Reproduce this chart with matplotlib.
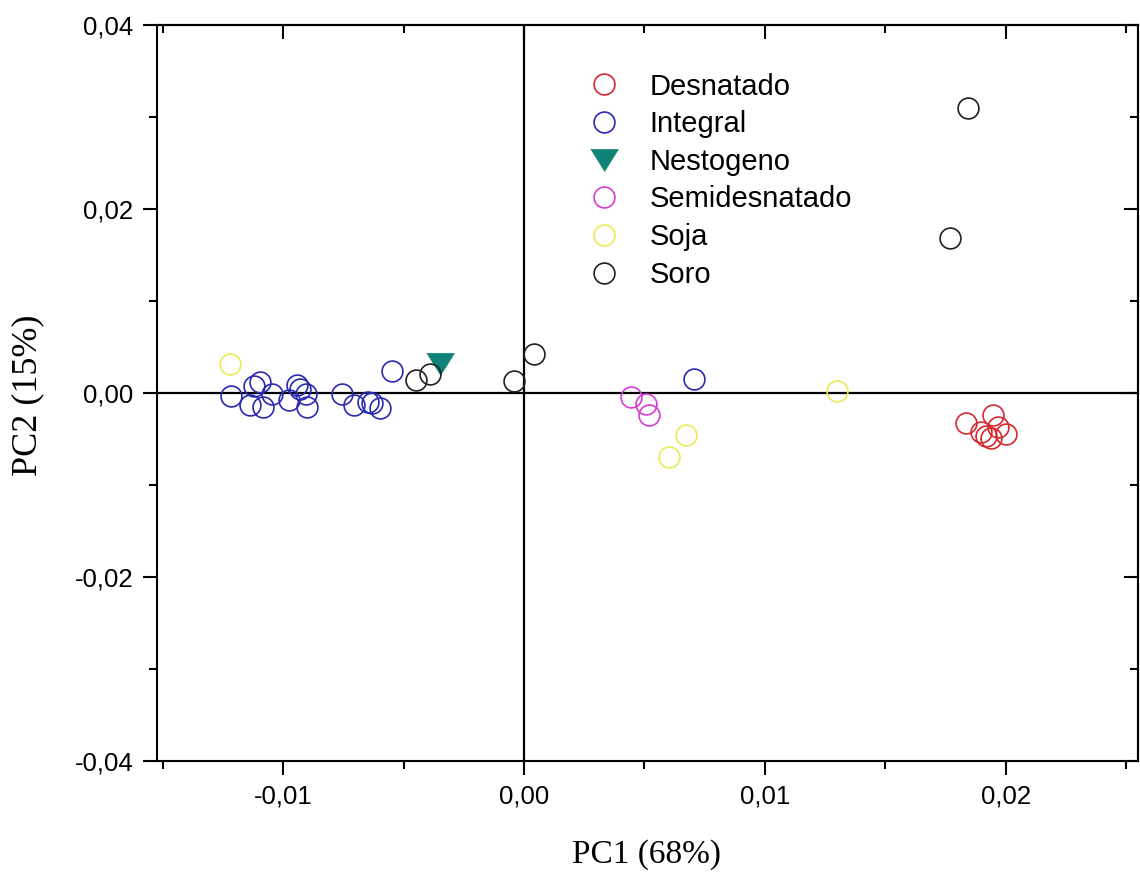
import matplotlib
matplotlib.use("Agg")
import matplotlib.pyplot as plt
from matplotlib.ticker import FuncFormatter, MultipleLocator

# ---- data (PC1, PC2 scores) ----
groups = ["Desnatado", "Integral", "Nestogeno", "Semidesnatado", "Soja", "Soro"]

desnatado_x = [0.01835, 0.01946, 0.01897, 0.01967, 0.02000, 0.01938, 0.01917]
desnatado_y = [-0.0033, -0.0024, -0.0042, -0.0037, -0.0045, -0.0049, -0.0047]

integral_x = [-0.01216, -0.01120, -0.01095, -0.01137, -0.01083, -0.01046, -0.00975,
              -0.00942, -0.00929, -0.00905, -0.00900, -0.00755, -0.00705, -0.00647,
              -0.00631, -0.00598, -0.00548, 0.00705]
integral_y = [-0.0003, 0.0008, 0.0012, -0.0013, -0.0015, -0.0001, -0.0008,
              0.0009, 0.0004, -0.0001, -0.0015, -0.0001, -0.0013, -0.0010,
              -0.0011, -0.0016, 0.0024, 0.0015]

nestogeno_x = [-0.0035]
nestogeno_y = [0.0032]

semides_x = [0.00442, 0.00508, 0.00520]
semides_y = [-0.0004, -0.0012, -0.0024]

soja_x = [-0.0122, 0.00674, 0.00600, 0.01298]
soja_y = [0.0032, -0.0046, -0.0070, 0.0002]

soro_x = [-0.0045, -0.0039, -0.0004, 0.0004, 0.01843, 0.01769]
soro_y = [0.0014, 0.0021, 0.0013, 0.0042, 0.0310, 0.0168]

x_ticks = [-0.01, 0.00, 0.01, 0.02]
y_ticks = [-0.04, -0.02, 0.00, 0.02, 0.04]

colors = {"Desnatado": "#d42a2e", "Integral": "#2a2ab0", "Nestogeno": "#0f8378",
          "Semidesnatado": "#d63cd6", "Soja": "#eaea55", "Soro": "#202020"}

plt.rcParams['font.family'] = ['Liberation Sans', 'DejaVu Sans']

fig = plt.figure(figsize=(11.4, 8.76), dpi=100)
ax = fig.add_axes([157/1140, 1-761/876, (1138-157)/1140, (761-25)/876])

ax.axhline(0, color='black', lw=1.6, zorder=1)
ax.axvline(0, color='black', lw=1.6, zorder=1)

tri = [(-1, 0.8), (1, 0.8), (0, -0.8)]
ms = 15
mew = 1.2
series = [("Desnatado", desnatado_x, desnatado_y, 'o'),
          ("Integral", integral_x, integral_y, 'o'),
          ("Nestogeno", nestogeno_x, nestogeno_y, 'v'),
          ("Semidesnatado", semides_x, semides_y, 'o'),
          ("Soja", soja_x, soja_y, 'o'),
          ("Soro", soro_x, soro_y, 'o')]
for name, xs, ys, m in series:
    c = colors[name]
    if m == 'o':
        ax.plot(xs, ys, linestyle='none', marker='o', markersize=ms,
                markerfacecolor='none', markeredgecolor=c, markeredgewidth=mew,
                label=name, zorder=3)
    else:
        ax.plot(xs, ys, linestyle='none', marker=tri, markersize=20,
                markerfacecolor=c, markeredgecolor=c, markeredgewidth=0.5,
                label=name, zorder=3)

ax.set_xlim(-0.01523, 0.02548)
ax.set_ylim(-0.04, 0.04)

fmt = FuncFormatter(lambda v, p: ("%.2f" % v).replace(".", ",").replace("-0,00", "0,00"))
ax.set_xticks(x_ticks)
ax.set_yticks(y_ticks)
ax.xaxis.set_major_formatter(fmt)
ax.yaxis.set_major_formatter(fmt)
ax.xaxis.set_minor_locator(MultipleLocator(0.005))
ax.yaxis.set_minor_locator(MultipleLocator(0.01))
ax.tick_params(which='major', direction='out', length=10, width=1.5, labelsize=18.5, pad=7)
ax.tick_params(which='minor', direction='out', length=6, width=1.5)
for s in ax.spines.values():
    s.set_linewidth(1.5)

# inward ticks on top and right
top = ax.secondary_xaxis('top')
top.set_xticks(x_ticks)
top.xaxis.set_minor_locator(MultipleLocator(0.005))
top.tick_params(which='major', direction='in', length=10, width=1.5, labeltop=False)
top.tick_params(which='minor', direction='in', length=6, width=1.5)
top.spines['top'].set_linewidth(1.5)
right = ax.secondary_yaxis('right')
right.set_yticks(y_ticks)
right.yaxis.set_minor_locator(MultipleLocator(0.01))
right.tick_params(which='major', direction='in', length=10, width=1.5, labelright=False)
right.tick_params(which='minor', direction='in', length=6, width=1.5)
right.spines['right'].set_linewidth(1.5)

serif = ['Liberation Serif', 'DejaVu Serif']
fig.text(646/1140, 1-855/876, "PC1 (68%)", family=serif, fontsize=24,
         ha='center', va='center')
fig.text(28/1140, 1-395/876, "PC2 (15%)", family=serif, fontsize=26,
         ha='center', va='center', rotation=90)

leg = ax.legend(loc='upper left', bbox_to_anchor=(575/1140, 1-58/876),
                bbox_transform=fig.transFigure, frameon=False, fontsize=21,
                handletextpad=1.05, labelspacing=0.33, borderpad=0, handlelength=1.0,
                numpoints=1)

fig.savefig("out.png", dpi=100)
